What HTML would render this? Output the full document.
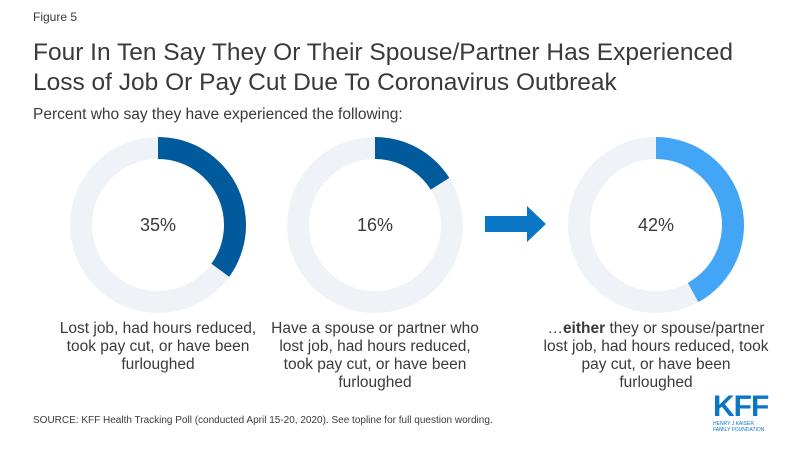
<!DOCTYPE html>
<html><head><meta charset="utf-8">
<style>
body{margin:0;width:800px;height:450px;background:#fff;font-family:"Liberation Sans",sans-serif;overflow:hidden;position:relative;color:#3a3a3a}
.a{position:absolute}
.lbl{position:absolute;text-align:center;font-size:15.5px;line-height:18px;color:#3a3a3a}
</style></head><body>
<div class="a" style="left:33px;top:10px;font-size:12px">Figure 5</div>
<div class="a" style="left:33px;top:38px;font-size:24.5px;line-height:30px;color:#3a3a3a">Four In Ten Say They Or Their Spouse/Partner Has Experienced<br>Loss of Job Or Pay Cut Due To Coronavirus Outbreak</div>
<div class="a" style="left:33px;top:106px;font-size:15.5px">Percent who say they have experienced the following:</div>
<svg class="a" style="left:0;top:0" width="800" height="450" id="chart">
<polygon points="485,216 527,216 527,206 546,224 527,242 527,232 485,232" fill="#0a77c6"/>
</svg>
<div class="lbl" style="left:38px;width:240px;top:320px">Lost job, had hours reduced,<br>took pay cut, or have been<br>furloughed</div>
<div class="lbl" style="left:255px;width:240px;top:320px">Have a spouse or partner who<br>lost job, had hours reduced,<br>took pay cut, or have been<br>furloughed</div>
<div class="lbl" style="left:536px;width:240px;top:320px">…<b>either</b> they or spouse/partner<br>lost job, had hours reduced, took<br>pay cut, or have been<br>furloughed</div>
<div class="a" style="left:33px;top:415px;font-size:10px">SOURCE: KFF Health Tracking Poll (conducted April 15-20, 2020). See topline for full question wording.</div>
<div class="a" style="left:713px;top:393px;width:60px;color:#0a77c6">
<div style="font-size:30px;font-weight:bold;letter-spacing:-1px;line-height:28px">KFF</div>
<div style="font-size:5px;line-height:6px">HENRY J KAISER<br>FAMILY FOUNDATION</div></div>
<script>
const categories=["self","spouse","either"];
const values=[35,16,42];
const labels=["35%","16%","42%"];
const centersX=[158,375,656];
const colors=["#005a9c","#005a9c","#42a5f5"];
const svg=document.getElementById('chart');
const NS="http://www.w3.org/2000/svg";
const cy=225,R=88,r=66;
function pt(rad,f){const a=f*2*Math.PI-Math.PI/2;return [Math.cos(a)*rad,Math.sin(a)*rad];}
values.forEach((v,i)=>{
 const cx=centersX[i];
 const bg=document.createElementNS(NS,'circle');
 bg.setAttribute('cx',cx);bg.setAttribute('cy',cy);bg.setAttribute('r',(R+r)/2);
 bg.setAttribute('fill','none');bg.setAttribute('stroke','#eff3f7');bg.setAttribute('stroke-width',R-r);
 
 
 svg.appendChild(bg);
 const f=v/100,[x1,y1]=pt(R,0),[x2,y2]=pt(R,f),[x3,y3]=pt(r,f),[x4,y4]=pt(r,0);
 const large=f>0.5?1:0;
 const p=document.createElementNS(NS,'path');
 p.setAttribute('d',`M${cx+x1},${cy+y1} A${R},${R} 0 ${large} 1 ${cx+x2},${cy+y2} L${cx+x3},${cy+y3} A${r},${r} 0 ${large} 0 ${cx+x4},${cy+y4} Z`);
 p.setAttribute('fill',colors[i]);
 
 
 svg.appendChild(p);
 const t=document.createElementNS(NS,'text');
 t.setAttribute('x',cx);t.setAttribute('y',cy+6);t.setAttribute('text-anchor','middle');
 t.setAttribute('font-size','18');t.setAttribute('fill','#3a3a3a');t.setAttribute('font-family','Liberation Sans, sans-serif');
 t.textContent=labels[i];
 
 
 svg.appendChild(t);
});
</script>
</body></html>
